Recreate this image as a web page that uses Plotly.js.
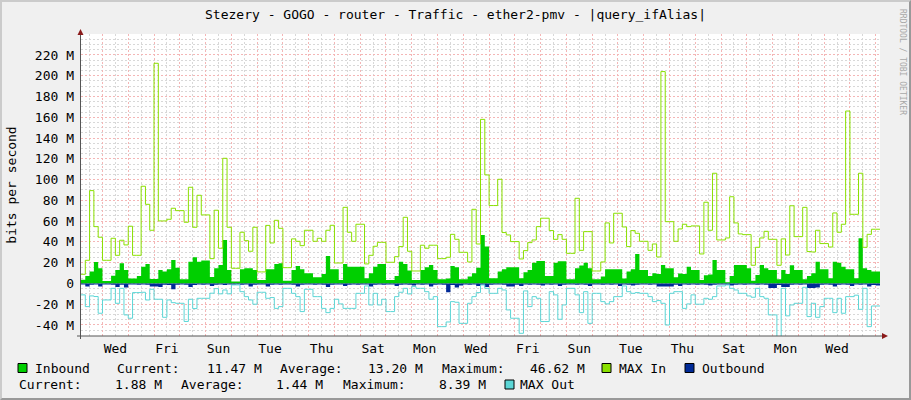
<!DOCTYPE html>
<html><head><meta charset="utf-8">
<script src="https://cdn.plot.ly/plotly-3.0.1.min.js"></script>
<style>
html,body{margin:0;padding:0;background:#F0F0F0;}
#wrap{position:relative;width:911px;height:400px;overflow:hidden;}
#chart{width:911px;height:400px;}
#frame{position:absolute;left:0;top:0;width:911px;height:400px;box-sizing:border-box;border-left:2px solid #CBCBCB;border-top:2px solid #CBCBCB;border-right:2px solid #999999;border-bottom:2px solid #999999;pointer-events:none;}
</style></head><body>
<div id="wrap"><div id="chart"></div><div id="frame"></div></div>
<script>
// ---- data (Mbit/s), one value per 4-hour step, starting Tue 04:00 ----
const stepHours = 4;
const startUTC = Date.UTC(2024, 0, 2, 4, 0, 0);

const inbound = [
 3.5, 7.2, 11.4, 20.7, 14.6, 2.4, 2.4, 7.5, 13, 19.4,
 13, 4.7, 4.7, 7.2, 16.2, 18.8, 4.3, 4.3, 13, 11.4,
 13.6, 22.6, 15.2, 4, 4, 21, 25.2, 21, 22, 22,
 6.3, 14.6, 17.8, 41.9, 13, 1.8, 1.8, 13.6, 14.6, 14.6,
 13, 3.4, 3.4, 13.6, 13.6, 18.8, 19.4, 2.7, 2.7, 13,
 16.9, 13.6, 9.8, 9.8, 5.9, 5.9, 9.1, 26.5, 13.6, 13.6,
 3.4, 18.8, 16.2, 16.2, 16.2, 16.2, 5, 9.8, 16.2, 18.8,
 18.8, 3.4, 3.4, 7.2, 21, 18.8, 12.4, 3.4, 3.4, 13,
 15.6, 17.8, 13, 4, 4, 4.7, 16.9, 15.6, 4, 4,
 6.6, 9.8, 15.2, 46.62, 35.5, 5, 5, 11.4, 13.6, 15.6,
 15.6, 15.6, 5, 10.8, 13, 20, 21.7, 21.7, 7.2, 7.2,
 20, 21.3, 21.3, 4, 4, 14.6, 17.2, 20, 14.6, 4,
 4, 6.6, 13.6, 13.6, 13.6, 13.6, 4.7, 11.4, 13.6, 28.4,
 13, 13, 7.2, 9.8, 9.1, 17.8, 14.6, 14.6, 5.9, 9.5,
 9.1, 16.2, 13, 13, 3.4, 7.8, 8.5, 22.6, 13, 13,
 1.1, 7.2, 17.8, 17.8, 17.8, 14.6, 2.7, 8.2, 17.8, 14.6,
 13, 13, 4, 13, 9.1, 17.5, 13, 13, 4, 7.2,
 9.8, 21, 13.6, 13.6, 5, 21, 20, 16.2, 13.6, 13.6,
 5, 43.5, 14.6, 13, 11.4, 11.47
];

const maxIn = [
 8.8, 22.3, 89.4, 54.7, 44.5, 22.3, 22.3, 43.5, 27.1, 41.6,
 37.1, 55.1, 27.1, 27.1, 93.6, 76.2, 51.2, 212, 60.2, 60.2,
 61.8, 72.4, 70.1, 70.1, 58.9, 92.6, 54.1, 84.9, 66, 66,
 23.9, 70.5, 33.9, 120.5, 54.1, 14.6, 14.6, 49.3, 41.2, 31,
 54.1, 11.1, 11.1, 55.9, 39, 60.8, 53.1, 15.2, 15.2, 42.9,
 40.6, 36.4, 51.2, 51.2, 40.6, 43.5, 40.6, 51.2, 56, 19.7,
 19.7, 73.3, 49.3, 40.6, 57, 57, 18.8, 27.1, 35.8, 39.6,
 39.6, 20.4, 20.4, 25.8, 35.5, 63.7, 31, 12, 12, 36.8,
 33.9, 36.8, 36.8, 23.9, 23.9, 25.2, 47.3, 42.5, 30, 30,
 20.7, 71.4, 38, 158, 104.5, 75, 75, 100.3, 49, 46.7,
 40.3, 40.3, 23.6, 31.6, 39.3, 41.9, 54.7, 62.8, 62.8, 50.9,
 42.5, 47, 42.5, 29, 29, 82, 31.9, 49.9, 49.9, 12,
 12, 20.7, 58.3, 39, 67.6, 67.6, 54.4, 35.5, 50.9, 48.3,
 40.6, 40.6, 31.9, 38, 25.5, 204, 59.5, 59.5, 40.6, 52.5,
 57, 54.7, 55.4, 55.4, 28.4, 78.2, 51.2, 106.1, 41.9, 41.9,
 43.8, 83.5, 58.3, 47.7, 47, 47, 17.5, 34.8, 43.8, 50.2,
 42.5, 42.5, 17.5, 42.9, 27.4, 74.8, 45.1, 45.1, 73.3, 30.7,
 30.3, 51.2, 38.4, 38.4, 35.1, 67.9, 49.3, 57, 166, 66.6,
 66.6, 106.1, 34.8, 47.3, 52.2, 52.2
];

const outbound = [
 1.0, 3.0, 1.2, 1.0, 3.0, 1.0, 1.0, 1.2, 3.5, 1.2,
 4.0, 1.0, 1.0, 1.2, 1.0, 1.2, 3.0, 3.0, 3.5, 1.2,
 1.5, 5.6, 1.2, 1.0, 1.2, 3.5, 1.5, 1.0, 1.2, 1.0,
 2.5, 1.2, 1.0, 1.5, 1.0, 1.2, 1.0, 1.2, 1.0, 3.0,
 1.2, 1.0, 1.0, 3.0, 1.2, 1.0, 1.2, 1.0, 1.0, 1.2,
 3.0, 1.2, 1.0, 1.0, 1.2, 1.0, 1.2, 3.5, 1.2, 1.0,
 1.0, 2.5, 1.2, 1.0, 1.2, 1.0, 1.0, 3.0, 1.2, 1.0,
 1.2, 1.0, 1.0, 2.5, 1.2, 1.0, 1.2, 2.0, 1.0, 1.2,
 1.0, 3.0, 1.2, 1.0, 1.2, 8.39, 1.5, 4.0, 2.0, 1.0,
 1.2, 1.0, 2.5, 1.2, 3.5, 1.2, 1.0, 1.0, 1.2, 3.0,
 3.0, 1.2, 2.5, 1.0, 1.2, 1.0, 1.2, 2.0, 1.0, 1.2,
 1.0, 2.5, 1.2, 1.0, 1.0, 1.2, 1.0, 1.2, 2.5, 1.0,
 1.0, 1.2, 1.0, 1.2, 1.0, 2.5, 1.0, 1.2, 2.0, 1.2,
 1.0, 1.0, 1.2, 1.0, 3.0, 3.0, 3.0, 3.0, 1.2, 2.5,
 1.0, 1.2, 1.0, 1.2, 1.0, 1.2, 2.0, 1.2, 1.0, 1.0,
 1.2, 2.0, 1.2, 1.0, 1.2, 1.0, 1.0, 1.2, 1.0, 1.2,
 4.5, 4.5, 1.5, 3.5, 3.5, 1.2, 1.0, 1.2, 1.0, 4.5,
 4.5, 4.0, 1.2, 1.0, 1.2, 3.0, 1.2, 1.0, 1.2, 2.5,
 1.0, 1.2, 1.0, 3.0, 1.5, 1.88
];

const maxOut = [
 11, 22.3, 12, 12.6, 28.7, 15.9, 15.9, 4.7, 19.1, 4.7,
 30.3, 33.5, 8.8, 8.8, 8.5, 15.9, 5.6, 15.2, 15.2, 32.6,
 15.9, 18.5, 19.1, 19.1, 36.6, 15.2, 24.2, 14.3, 14.3, 14.3,
 9.4, 5, 10, 6.3, 10, 1.4, 1.4, 7.9, 12.7, 15.9,
 20, 8.5, 8.5, 14.3, 13.6, 24, 22.3, 4.7, 4.7, 9.5,
 12.7, 27.1, 5.6, 5.6, 12.7, 12.7, 24, 28.1, 24, 15.2,
 19.7, 24, 24, 24, 9.5, 9.5, 2.4, 20.7, 9.5, 20.7,
 15.2, 27.1, 27.1, 12.7, 8.5, 4.7, 10.1, 3, 4.7, 4.7,
 7.9, 15.2, 12.7, 41.6, 41.6, 37.1, 17.5, 18.1, 38.4, 38.4,
 19.1, 12.7, 8.8, 1.4, 4.7, 9.5, 9.5, 4.7, 6.3, 25.5,
 33.5, 33.5, 48, 7.2, 22.3, 12.7, 14.3, 36.7, 36.7, 7.9,
 11, 34.5, 20.7, 4.7, 4.7, 11, 28.1, 7.9, 38.4, 9.5,
 9.5, 17.5, 19.7, 17.5, 12.7, 12.7, 2.4, 7.9, 9.5, 8.8,
 9.5, 9.5, 12.7, 17.5, 16.5, 19.1, 40, 9.5, 7.9, 7.9,
 24, 19.7, 11, 20, 20, 14.3, 15.2, 12.7, 2.4, 2.4,
 1.4, 4.7, 6.3, 9.5, 9.5, 12, 13.3, 4.7, 12.7, 14.3,
 30.3, 30.3, 56, 4.7, 31.2, 20.7, 19.1, 19.1, 3.7, 31.9,
 19.1, 32.6, 22.3, 14.3, 14.3, 28.1, 14.3, 28.7, 12.7, 12.7,
 11.3, 24.9, 4.7, 41.6, 21.7, 21.7
];

const yTickVals = [-40, -20, 0, 20, 40, 60, 80, 100, 120, 140, 160, 180, 200, 220];
const yTickText = ['-40 M', '-20 M', '0', '20 M', '40 M', '60 M', '80 M', '100 M', '120 M', '140 M', '160 M', '180 M', '200 M', '220 M'];

const legendRow1 = ['Inbound', 'Current:', '11.47 M', 'Average:', '13.20 M', 'Maximum:', '46.62 M', 'MAX In', 'Outbound'];
const legendRow2 = ['Current:', '1.88 M', 'Average:', '1.44 M', 'Maximum:', '8.39 M', 'MAX Out'];

const titleText = 'Stezery - GOGO - router - Traffic - ether2-pmv - |query_ifAlias|';

// ---- colours ----
const cIn = '#00CF00', cMaxIn = '#8AE000', cOut = '#002A97', cMaxOut = '#5CD6D6';

// ---- build ----
const H = 3600e3;
function ts(ms) { return new Date(ms).toISOString().slice(0, 19).replace('T', ' '); }
const n = inbound.length;
const xs = [];
for (let k = 0; k <= n; k++) xs.push(ts(startUTC + k * stepHours * H));
const ext = a => a.concat([a[a.length - 1]]);
const neg = a => a.map(v => -v);

const traces = [
  {x: xs, y: ext(inbound), type: 'scatter', mode: 'lines', line: {shape: 'hv', width: 0, color: cIn}, fill: 'tozeroy', fillcolor: cIn},
  {x: xs, y: ext(maxIn), type: 'scatter', mode: 'lines', line: {shape: 'hv', width: 1, color: cMaxIn}},
  {x: xs, y: neg(ext(outbound)), type: 'scatter', mode: 'lines', line: {shape: 'hv', width: 0, color: cOut}, fill: 'tozeroy', fillcolor: cOut},
  {x: xs, y: neg(ext(maxOut)), type: 'scatter', mode: 'lines', line: {shape: 'hv', width: 1, color: cMaxOut}}
];

// plot area in pixels
const L = 81, R = 880, T = 34, B = 336;
const PX = px => (px - L) / (R - L);
const PY = py => (B - py) / (B - T);
const P = (px, py) => PX(px) + ',' + PY(py);

const font = 'DejaVu Sans Mono';
const annotations = [];
const row1x = [33.7, 116.3, 206.4, 279, 367.4, 440.7, 529, 618, 700.6];
const row2x = [18.6, 115, 181.4, 276, 343, 439, 520.3];
legendRow1.forEach((t, i) => annotations.push({text: t, x: PX(row1x[i] - 1), y: PY(368), xref: 'paper', yref: 'paper', xanchor: 'left', yanchor: 'middle', showarrow: false, font: {family: font, size: 13, color: '#000'}}));
legendRow2.forEach((t, i) => annotations.push({text: t, x: PX(row2x[i] - 2), y: PY(384.5), xref: 'paper', yref: 'paper', xanchor: 'left', yanchor: 'middle', showarrow: false, font: {family: font, size: 13, color: '#000'}}));
annotations.push({text: 'RRDTOOL / TOBI OETIKER', x: PX(903), y: PY(62), xref: 'paper', yref: 'paper', xanchor: 'center', yanchor: 'middle', textangle: 90, showarrow: false, font: {family: font, size: 8, color: '#A8A8A8'}});

const swatch = (x0, y0, c) => ({type: 'rect', xref: 'paper', yref: 'paper', x0: PX(x0), x1: PX(x0 + 9), y0: PY(y0), y1: PY(y0 + 9), fillcolor: c, line: {color: '#000', width: 1}, layer: 'above'});
const shapes = [
  swatch(18, 363.5, cIn), swatch(602, 363.5, cMaxIn), swatch(685, 363.5, cOut), swatch(505, 380, cMaxOut),
  // axis extensions + arrows
  {type: 'line', xref: 'paper', yref: 'paper', x0: PX(80.5), x1: PX(80.5), y0: PY(339), y1: PY(33), line: {color: '#555', width: 1}, layer: 'above'},
  {type: 'line', xref: 'paper', yref: 'paper', x0: PX(77), x1: PX(884), y0: PY(336), y1: PY(336), line: {color: '#555', width: 1}, layer: 'above'},
  {type: 'path', xref: 'paper', yref: 'paper', path: 'M' + P(77.5, 35) + 'L' + P(83.5, 35) + 'L' + P(80.5, 29) + 'Z', fillcolor: '#8B1A1A', line: {width: 0}, layer: 'above'},
  {type: 'path', xref: 'paper', yref: 'paper', path: 'M' + P(882, 333) + 'L' + P(882, 339) + 'L' + P(888, 336) + 'Z', fillcolor: '#8B1A1A', line: {width: 0}, layer: 'above'}
];

const majorGrid = '#F4B6B6', minorGrid = '#D8D8D8';
const layout = {
  width: 911, height: 400,
  paper_bgcolor: '#F0F0F0', plot_bgcolor: '#FFFFFF',
  margin: {l: L, r: 911 - R, t: T, b: 400 - B, pad: 0},
  showlegend: false,
  font: {family: font, size: 13, color: '#000'},
  title: {text: titleText, x: 0.5, xref: 'container', xanchor: 'center', y: 1 - 14 / 400, yref: 'container', yanchor: 'middle', font: {family: font, size: 13, color: '#000'}},
  xaxis: {
    type: 'date', range: [ts(startUTC), ts(startUTC + n * stepHours * H)],
    tickmode: 'linear', tick0: '2024-01-03', dtick: 86400000,
    ticklabelmode: 'period', ticklabelstep: 2, tickformat: '%a',
    ticks: '', ticklabelstandoff: 3,
    showgrid: true, gridcolor: majorGrid, griddash: '2px,2px', gridwidth: 1,
    minor: {tickmode: 'linear', tick0: '2024-01-03', dtick: 43200000, showgrid: true, gridcolor: minorGrid, griddash: '2px,2px', gridwidth: 1, ticks: ''},
    showline: false, zeroline: false, fixedrange: true,
    tickfont: {family: font, size: 13, color: '#000'}
  },
  yaxis: {
    range: [-50.6, 240.2],
    tickmode: 'array', tickvals: yTickVals, ticktext: yTickText,
    ticks: '', ticklabelstandoff: 6,
    showgrid: true, gridcolor: majorGrid, griddash: '2px,2px', gridwidth: 1,
    minor: {tickmode: 'linear', tick0: 0, dtick: 5, showgrid: true, gridcolor: minorGrid, griddash: '2px,2px', gridwidth: 1, ticks: ''},
    showline: false, zeroline: false, fixedrange: true,
    tickfont: {family: font, size: 13, color: '#000'},
    title: {text: 'bits per second', standoff: 15, font: {family: font, size: 13, color: '#000'}}
  },
  annotations: annotations,
  shapes: shapes
};

Plotly.newPlot('chart', traces, layout, {staticPlot: true, displayModeBar: false});
</script>
</body></html>
